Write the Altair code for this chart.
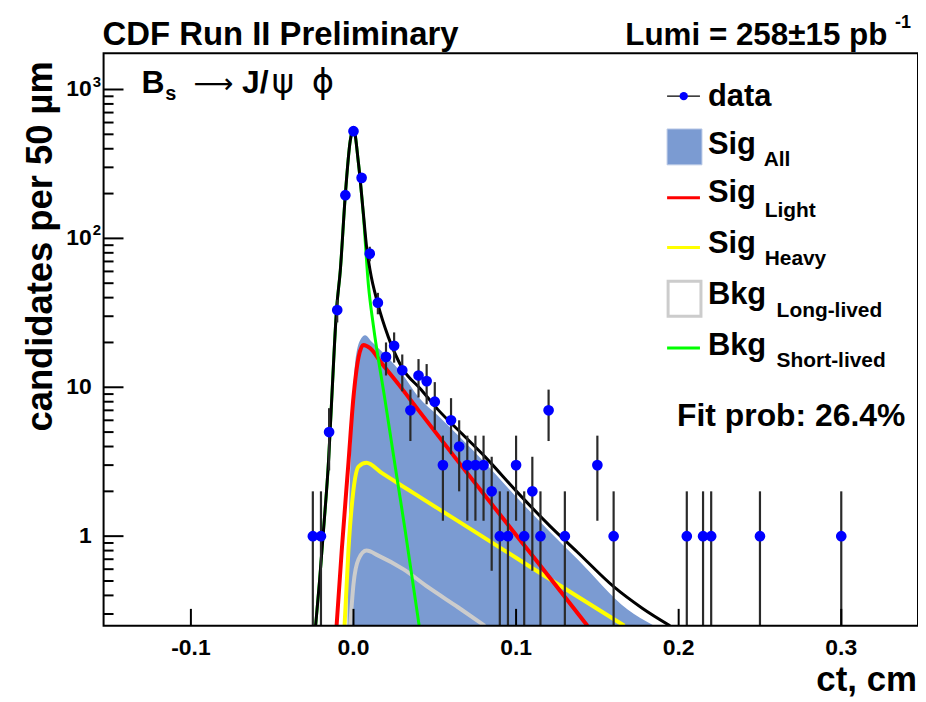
import altair as alt
import pandas as pd

# ---------------- data ----------------
ct = [-0.025, -0.02, -0.015, -0.01, -0.005, 0.0, 0.005, 0.01, 0.015, 0.02, 0.025,
      0.03, 0.035, 0.04, 0.045, 0.05, 0.055, 0.06, 0.065, 0.07, 0.075, 0.08, 0.085,
      0.09, 0.095, 0.10, 0.105, 0.11, 0.115, 0.12, 0.13, 0.15, 0.16, 0.205, 0.215,
      0.22, 0.25, 0.30]
counts = [1, 1, 5, 33, 195, 525, 255, 79, 37, 16, 19, 13, 7, 12, 11, 8, 3, 6, 4, 3,
          3, 3, 2, 1, 1, 3, 1, 2, 1, 7, 1, 3, 1, 1, 1, 1, 1, 1]

total_x = [-0.0233, -0.0208, -0.0184, -0.0153, -0.0135, -0.0104, -0.0081, -0.0051,
           -0.0020, 0.0, 0.0031, 0.0061, 0.0081, 0.0102, 0.0149, 0.0214, 0.0296,
           0.0418, 0.0521, 0.0661, 0.0808, 0.1010, 0.1212, 0.1378, 0.1604, 0.1776,
           0.1947]
total_y = [0.25, 0.51, 1.11, 3.26, 7.85, 33.4, 61, 191, 452, 544, 317, 146, 87, 61,
           36.6, 21.8, 13.7, 9.6, 7.05, 4.95, 3.42, 1.96, 1.16, 0.78, 0.454, 0.328,
           0.25]

short_x = [-0.0233, -0.0208, -0.0184, -0.0153, -0.0135, -0.0104, -0.0081, -0.0051,
           -0.0020, 0.0, 0.0031, 0.0061, 0.0092, 0.0122, 0.0194, 0.0255, 0.0317, 0.0404]
short_y = [0.25, 0.51, 1.11, 3.26, 7.85, 33.4, 61, 191, 452, 544, 317, 142, 48.3,
           26.1, 8.2, 3.02, 1.11, 0.25]

sigall_x = [-0.0037, -0.0031, -0.0010, 0.0010, 0.0041, 0.0072, 0.0112, 0.0202,
            0.0294, 0.0398, 0.0521, 0.0808, 0.1010, 0.1212, 0.1378, 0.1684, 0.1849]
sigall_y = [0.25, 0.81, 5.18, 14.5, 20.7, 22.4, 20.2, 16.2, 12.5, 8.65, 6.43, 3.11,
            1.79, 1.06, 0.70, 0.323, 0.25]

light_x = [-0.0104, -0.0072, -0.0031, 0.0, 0.0031, 0.0061, 0.0102, 0.0173, 0.0276,
           0.0398, 0.0661, 0.1072, 0.1274, 0.1439]
light_y = [0.25, 0.81, 3.11, 8.61, 15.9, 19.2, 18.3, 14.5, 10.5, 7.05, 3.0, 0.81,
           0.425, 0.25]

heavy_x = [-0.0055, -0.0031, 0.0, 0.0031, 0.0080, 0.0171, 0.0337, 0.0521, 0.0765,
           0.1072, 0.1378, 0.1666]
heavy_y = [0.25, 0.81, 2.05, 2.93, 3.11, 2.67, 2.05, 1.53, 1.04, 0.638, 0.393, 0.25]

long_x = [-0.002, 0.0, 0.0031, 0.008, 0.0153, 0.0306, 0.0459, 0.0643, 0.0808]
long_y = [0.25, 0.475, 0.70, 0.80, 0.74, 0.60, 0.454, 0.333, 0.25]

x_ticks = [-0.1, 0.0, 0.1, 0.2, 0.3]
x_tick_labels = ["-0.1", "0.0", "0.1", "0.2", "0.3"]
y_major = [1, 10, 100, 1000]
y_major_labels = ["1", "10", "10", "10"]
y_sup = [100, 1000]
y_sup_labels = ["2", "3"]
y_minor = [0.3, 0.4, 0.5, 0.6, 0.7, 0.8, 0.9, 2, 3, 4, 5, 6, 7, 8, 9,
           20, 30, 40, 50, 60, 70, 80, 90, 200, 300, 400, 500, 600, 700, 800, 900]

# ---------------- scales ----------------
W, H = 818, 575
FONT = "Liberation Sans"
xs = alt.Scale(domain=[-0.1537, 0.3472], nice=False, zero=False)
ys = alt.Scale(type="log", domain=[0.25, 1750], nice=False)


def X(f):
    return alt.X(f"{f}:Q", scale=xs, axis=None)


def Y(f):
    return alt.Y(f"{f}:Q", scale=ys, axis=None)


def curve(xv, yv, color, width):
    df = pd.DataFrame({"x": xv, "y": yv})
    return alt.Chart(df).mark_line(color=color, strokeWidth=width, clip=True,
                                   interpolate="monotone").encode(x=X("x"), y=Y("y"))


def label(text, x, y, size, align="left", baseline="alphabetic", weight="bold",
          font=FONT, angle=0):
    kw = dict(align=align, baseline=baseline, fontSize=size, fontWeight=weight,
              font=font, color="black")
    if angle:
        kw["angle"] = angle
    return alt.Chart(pd.DataFrame({"t": [text]})).mark_text(**kw).encode(
        x=alt.value(x), y=alt.value(y), text="t:N")


layers = []

# Sig_All filled area
sig_df = pd.DataFrame({"x": sigall_x, "y": sigall_y})
layers.append(alt.Chart(sig_df).mark_area(color="#7b9bd2", opacity=1, clip=True,
                                          interpolate="monotone").encode(
    x=X("x"), y=Y("y"), y2=alt.datum(0.2)))

layers.append(curve(long_x, long_y, "#cccccc", 4))
layers.append(curve(heavy_x, heavy_y, "#ffff00", 4))
layers.append(curve(light_x, light_y, "#ff0000", 4))
layers.append(curve(short_x, short_y, "#00ff00", 3))
layers.append(curve(total_x, total_y, "black", 3))

# data points with Poisson error bars
data_df = pd.DataFrame({"x": ct, "n": counts})
base = alt.Chart(data_df).transform_calculate(
    lo="max(datum.n - sqrt(datum.n), 0.1)", hi="datum.n + sqrt(datum.n)")
layers.append(base.mark_rule(color="#2a2a2a", strokeWidth=2.2, clip=True).encode(
    x=X("x"), y=Y("lo"), y2="hi:Q"))
layers.append(base.mark_circle(color="#0000ff", size=115, opacity=1, clip=True).encode(
    x=X("x"), y=Y("n")))

# ticks (inside the frame)
layers.append(alt.Chart(pd.DataFrame({"v": x_ticks})).mark_rule(
    color="black", strokeWidth=2).encode(x=X("v"), y=alt.value(H), y2=alt.value(H - 17)))
layers.append(alt.Chart(pd.DataFrame({"v": y_major})).mark_rule(
    color="black", strokeWidth=2).encode(y=Y("v"), x=alt.value(0), x2=alt.value(20)))
layers.append(alt.Chart(pd.DataFrame({"v": y_minor})).mark_rule(
    color="black", strokeWidth=2).encode(y=Y("v"), x=alt.value(0), x2=alt.value(10)))

# tick labels
layers.append(alt.Chart(pd.DataFrame({"v": x_ticks, "t": x_tick_labels})).mark_text(
    align="center", baseline="alphabetic", fontSize=23, fontWeight="bold", font=FONT,
    color="black").encode(x=X("v"), y=alt.value(H + 29), text="t:N"))
layers.append(alt.Chart(pd.DataFrame({"v": y_major, "t": y_major_labels})).mark_text(
    align="right", baseline="middle", fontSize=23, fontWeight="bold", font=FONT,
    color="black").encode(y=Y("v"), x=alt.value(-12), text="t:N"))
layers.append(alt.Chart(pd.DataFrame({"v": y_sup, "t": y_sup_labels})).mark_text(
    align="left", baseline="alphabetic", fontSize=15, fontWeight="bold", font=FONT,
    color="black", dy=-3).encode(y=Y("v"), x=alt.value(-11), text="t:N"))

# frame
layers.append(alt.Chart(pd.DataFrame({"a": [0]})).mark_rect(
    filled=False, stroke="black", strokeWidth=2).encode(
    x=alt.value(0), x2=alt.value(W), y=alt.value(0), y2=alt.value(H)))

# titles
layers.append(label("candidates per 50 µm", -52, 8, 36.5, align="right", angle=270))
layers.append(label("ct, cm", 817, 640, 35, align="right"))
layers.append(label("CDF Run II Preliminary", -1, -8, 33))
layers.append(label("Lumi = 258±15 pb", 524, -8, 31.5))
layers.append(label("-1", 795, -25, 18))

# decay label
layers.append(label("B", 38, 40, 32))
layers.append(label("s", 62, 47, 20))
layers.append(label("⟶", 90, 40, 28, weight="normal", font="DejaVu Sans"))
layers.append(label("J/", 139, 40, 32))
layers.append(label("ψ", 169, 40, 34, weight="normal", font="DejaVu Sans"))
layers.append(label("ϕ", 209, 40, 34, weight="normal", font="DejaVu Sans"))

# legend symbols
layers.append(alt.Chart(pd.DataFrame({"a": [0]})).mark_rule(
    color="black", strokeWidth=1.5).encode(x=alt.value(566), x2=alt.value(599), y=alt.value(43)))
layers.append(alt.Chart(pd.DataFrame({"a": [0]})).mark_circle(
    color="#0000ff", size=70, opacity=1).encode(x=alt.value(582.7), y=alt.value(43)))
layers.append(alt.Chart(pd.DataFrame({"a": [0]})).mark_rect(
    color="#7b9bd2", stroke="#b8c8e6", strokeWidth=1).encode(
    x=alt.value(566), x2=alt.value(601), y=alt.value(76), y2=alt.value(112)))
layers.append(alt.Chart(pd.DataFrame({"a": [0]})).mark_rule(
    color="#ff0000", strokeWidth=3).encode(x=alt.value(566), x2=alt.value(599), y=alt.value(145)))
layers.append(alt.Chart(pd.DataFrame({"a": [0]})).mark_rule(
    color="#ffff00", strokeWidth=3).encode(x=alt.value(566), x2=alt.value(599), y=alt.value(195)))
layers.append(alt.Chart(pd.DataFrame({"a": [0]})).mark_rect(
    filled=False, stroke="#cccccc", strokeWidth=3).encode(
    x=alt.value(567), x2=alt.value(600), y=alt.value(229), y2=alt.value(264)))
layers.append(alt.Chart(pd.DataFrame({"a": [0]})).mark_rule(
    color="#00ff00", strokeWidth=3).encode(x=alt.value(566), x2=alt.value(599), y=alt.value(296)))

# legend text
layers.append(label("data", 607, 53, 31))
layers.append(label("Sig", 607, 100.7, 31))
layers.append(label("All", 663, 113, 21))
layers.append(label("Sig", 607, 149.7, 31))
layers.append(label("Light", 664, 164.7, 21))
layers.append(label("Sig", 607, 200.7, 31))
layers.append(label("Heavy", 664, 213, 21))
layers.append(label("Bkg", 607, 251.3, 31))
layers.append(label("Long-lived", 676, 265, 21))
layers.append(label("Bkg", 607, 303, 31))
layers.append(label("Short-lived", 676, 314.7, 21))

layers.append(label("Fit prob: 26.4%", 576, 374, 32))

chart = alt.layer(*layers).properties(
    width=W, height=H,
    autosize=alt.AutoSizeParams(type="none"),
    padding={"left": 96, "top": 44, "right": 0, "bottom": 70},
    background="white",
).configure_view(stroke=None)

chart.save("out.html", embed_options={"renderer": "svg", "actions": False})
